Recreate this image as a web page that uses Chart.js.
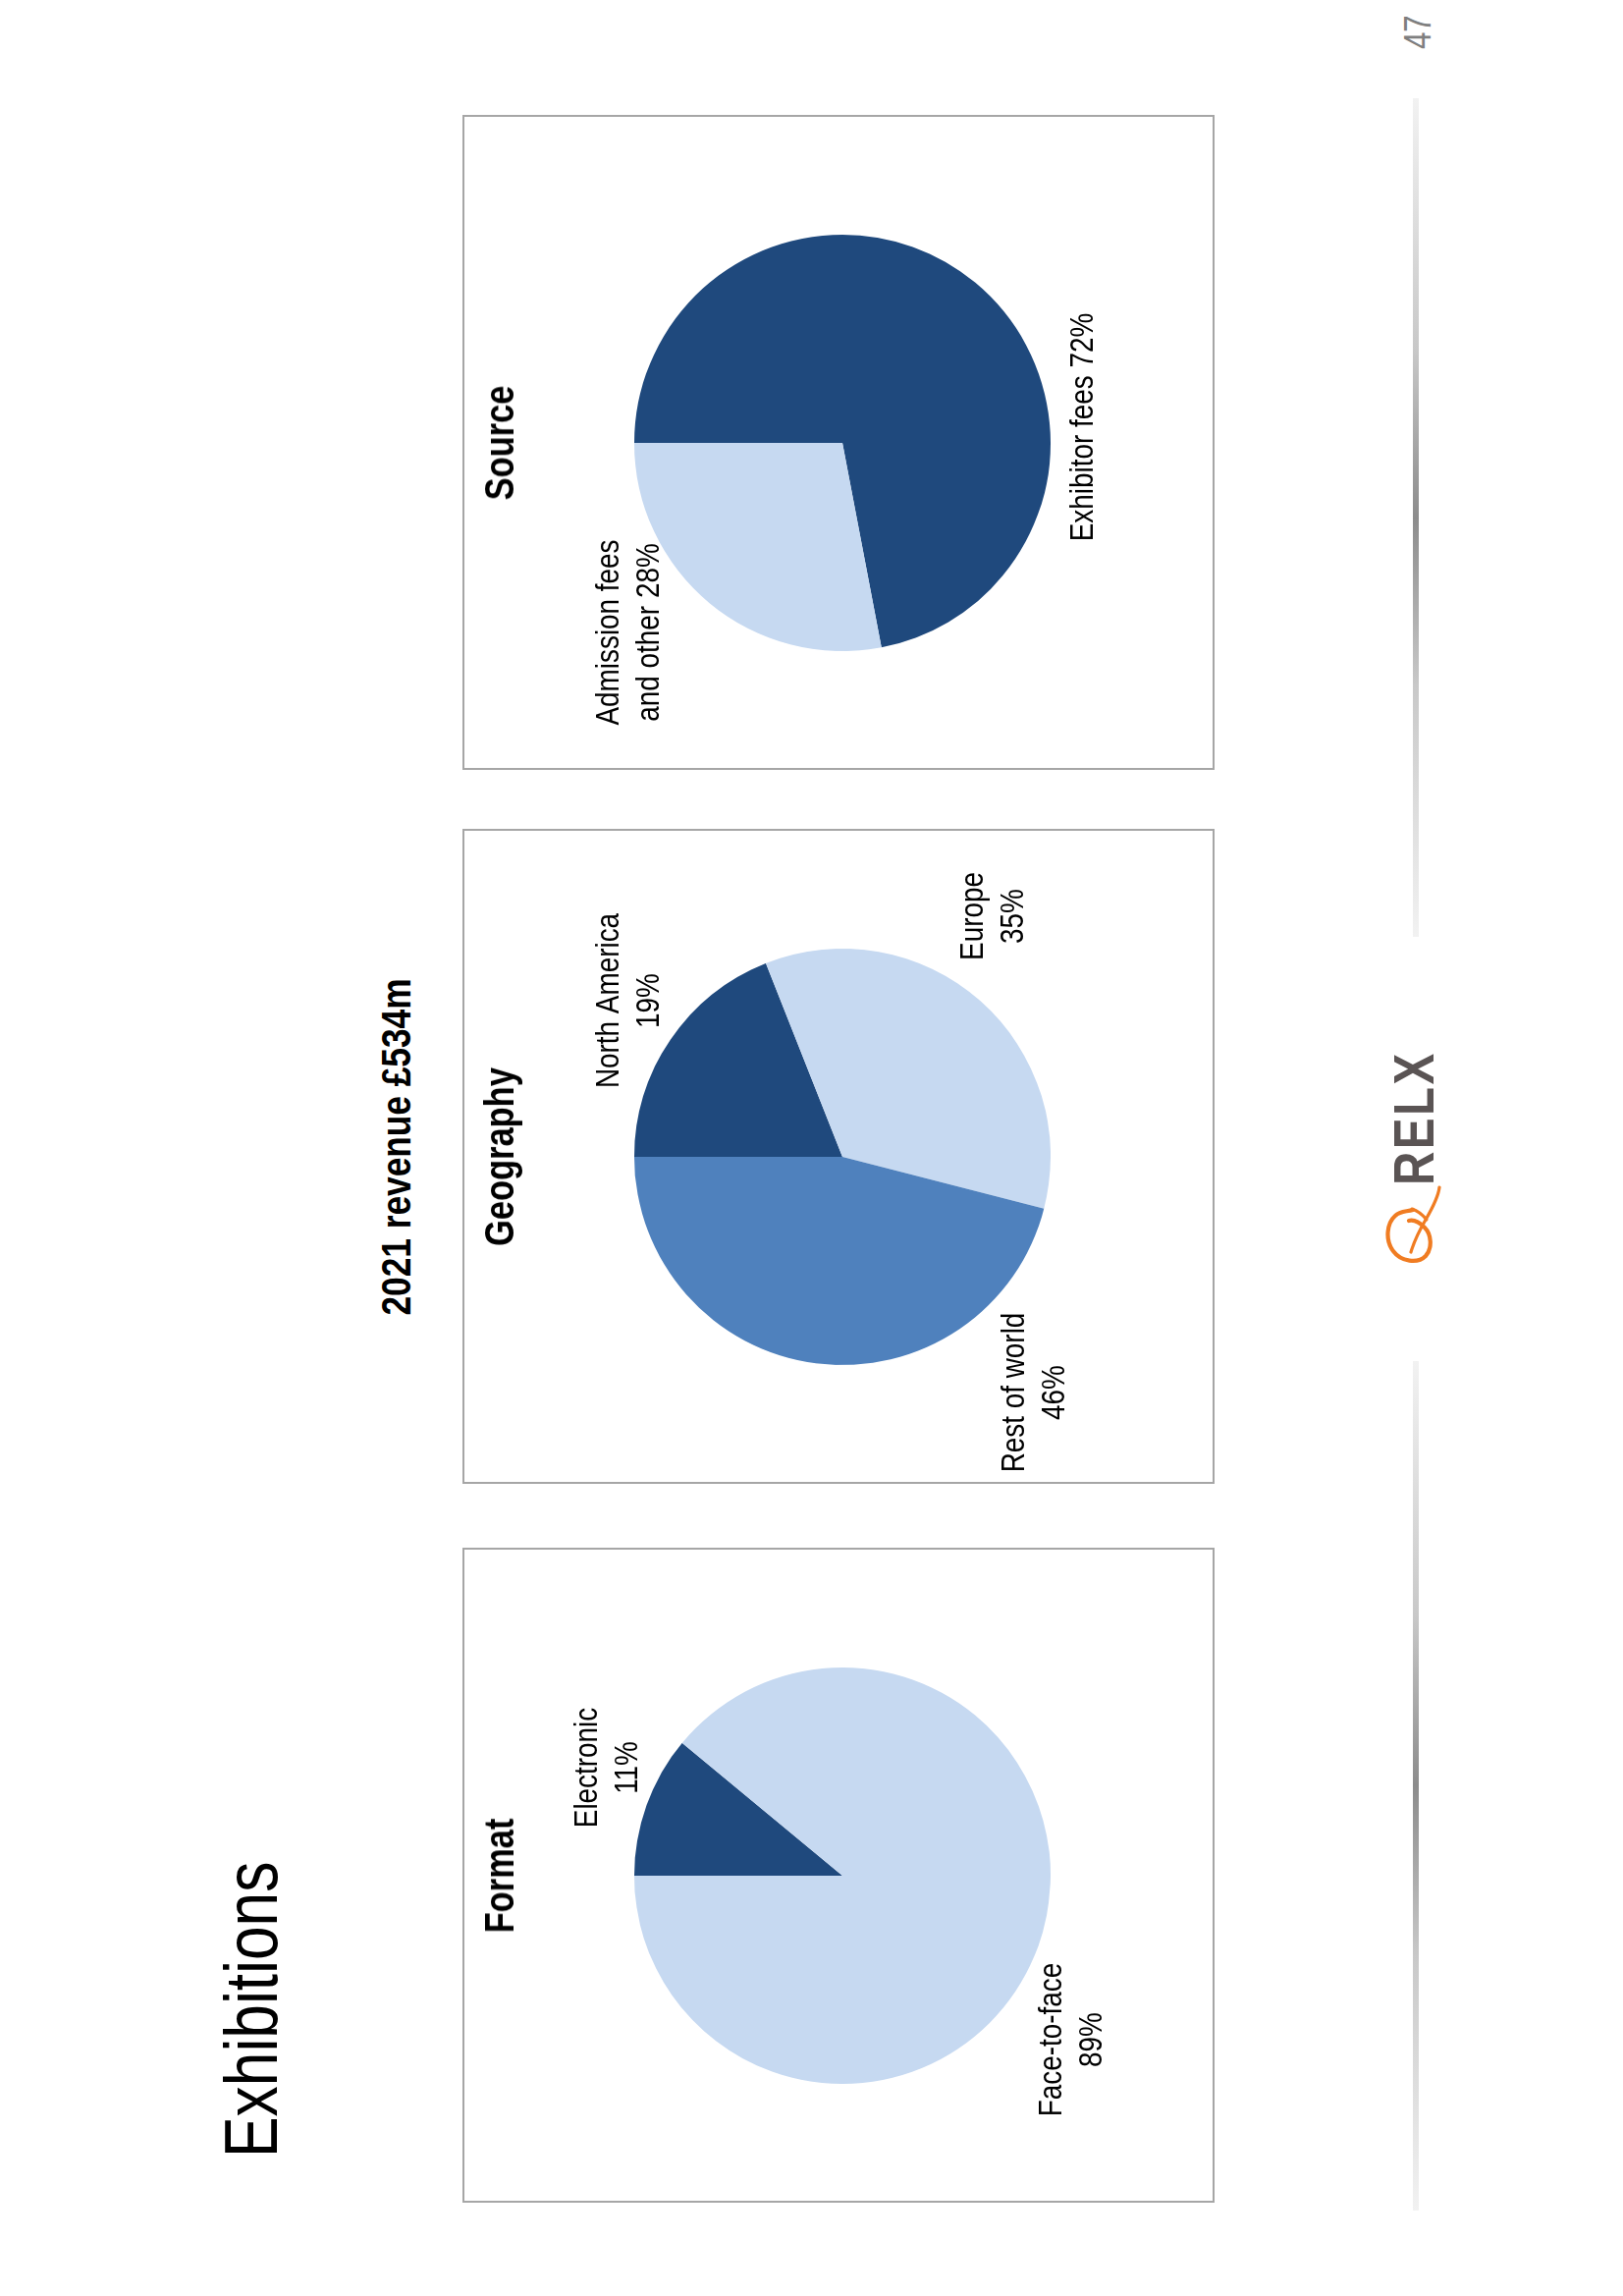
<!DOCTYPE html>
<html><head><meta charset="utf-8">
<script src="https://cdn.jsdelivr.net/npm/chart.js@4/dist/chart.umd.min.js"></script>
<style>
html,body{margin:0;padding:0;background:#fff;}
body{width:1653px;height:2338px;overflow:hidden;position:relative;}
#slide{position:absolute;left:0;top:2338px;width:2338px;height:1653px;transform-origin:0 0;transform:rotate(-90deg);background:#fff;}
.box{position:absolute;top:471px;width:667px;height:766px;border:2px solid #a6a6a6;box-sizing:border-box;}
.box canvas{position:absolute;left:0;top:0;}
.t{position:absolute;white-space:nowrap;line-height:1;}
.rule{position:absolute;height:6px;top:1439px;background:linear-gradient(to right,#f2f2f2 0%,#c8c8c8 30%,#8c8c8c 50%,#c8c8c8 70%,#f2f2f2 100%);}
</style></head>
<body>
<div id="slide">
  <div class="box" id="b0" style="left:95px"><canvas id="c0" width="663" height="762"></canvas></div>
  <div class="box" id="b1" style="left:827px"><canvas id="c1" width="663" height="762"></canvas></div>
  <div class="box" id="b2" style="left:1554px"><canvas id="c2" width="663" height="762"></canvas></div>
  <div class="rule" style="left:87px;width:865px"></div>
  <div class="rule" style="left:1384px;width:854px"></div>
  <svg id="swirl" style="position:absolute;left:1045px;top:1408px" width="90" height="62" viewBox="0 0 90 62">
    <path d="M84 58 C75 57 63 51 51 44 C39 37 28 32 18 29" fill="none" stroke="#f07c22" stroke-width="3.2" stroke-linecap="round"/>
    <path d="M61 31 C59 24 60 18 55 13 C48 5 31 2 19 11 C8 19 6 36 14 44 C22 51 36 50 43 43 C49 37 51 31 50 27" fill="none" stroke="#f07c22" stroke-width="4.2" stroke-linecap="round"/>
    <path d="M62 30 C60 36 56 41 51 45" fill="none" stroke="#f07c22" stroke-width="3" stroke-linecap="round"/>
  </svg>
</div>
<script>
// ---------- data ----------
const formatLabels = ['Electronic', 'Face-to-face'];
const formatValues = [11, 89];
const geoLabels = ['North America', 'Europe', 'Rest of world'];
const geoValues = [19, 35, 46];
const sourceLabels = ['Exhibitor fees', 'Admission fees\nand other'];
const sourceValues = [72, 28];
const chartTitles = ['Format', 'Geography', 'Source'];
const pageTitle = 'Exhibitions';
const subTitle = '2021 revenue £534m';
const pageNumber = '47';

// ---------- styles ----------
const DARK = '#1F497D', MID = '#4F81BD', LIGHT = '#C6D9F1';

function hasFont(f){
  const c = document.createElement('canvas').getContext('2d');
  c.font = '100px monospace'; const a = c.measureText('Electronic Wmm 72%').width;
  c.font = '100px "' + f + '", monospace'; const b = c.measureText('Electronic Wmm 72%').width;
  return Math.abs(a - b) > 0.5;
}
const NARROW = hasFont('Liberation Sans Narrow');
const FAM = NARROW ? '"Liberation Sans Narrow", "Liberation Sans", Arial, sans-serif' : '"Liberation Sans", Arial, sans-serif';
const SX = NARROW ? 1 : 0.82;

const slide = document.getElementById('slide');
function place(text, x, baseline, size, weight, color, align, extra){
  const d = document.createElement('div');
  d.className = 't';
  d.textContent = text;
  d.style.fontFamily = FAM;
  d.style.fontSize = size + 'px';
  d.style.fontWeight = weight;
  d.style.color = color;
  d.style.top = (baseline - 0.8465 * size) + 'px';
  d.style.left = x + 'px';
  if (extra) Object.assign(d.style, extra);
  const tx = align === 'center' ? 'translateX(-50%) ' : '';
  d.style.transformOrigin = align === 'center' ? '50% 0' : '0 0';
  d.style.transform = tx + 'scaleX(' + SX + ')';
  slide.appendChild(d);
}

place(pageTitle, 141, 282, 76, 400, '#000', 'left');
place(subTitle, 1170, 418, 43, 700, '#000', 'center');
place(pageNumber, 2288, 1457, 38, 400, '#7f7f7f', 'left');
place('RELX', 1131, 1460, 58, 700, '#5a5454', 'left', {letterSpacing: '3px'});

const boxCenters = [428, 1160, 1887];
chartTitles.forEach((t, i) => place(t, boxCenters[i], 524, 42, 700, '#000', 'center'));

// label plugin: draws "label value%" next to slices, offsets relative to pie centre
const pieLabelPlugin = {
  id: 'pieLabels',
  afterDraw(chart, args, opts) {
    const ctx = chart.ctx;
    const meta = chart.getDatasetMeta(0);
    const cx = meta.data[0].x, cy = meta.data[0].y;
    const labels = chart.data.labels, vals = chart.data.datasets[0].data;
    ctx.save();
    ctx.fillStyle = '#000';
    ctx.font = '34px ' + FAM;
    ctx.textAlign = 'center';
    ctx.textBaseline = 'alphabetic';
    labels.forEach((lab, i) => {
      const txt = lab + opts.sep + vals[i] + '%';
      const lines = txt.split('\n');
      const o = opts.offsets[i];
      lines.forEach((ln, k) => {
        ctx.save();
        ctx.translate(cx + o[0], cy + o[1] + k * 41);
        ctx.scale(SX, 1);
        ctx.fillText(ln, 0, 0);
        ctx.restore();
      });
    });
    ctx.restore();
  }
};

function makePie(id, labels, values, colors, sep, offsets){
  new Chart(document.getElementById(id), {
    type: 'pie',
    data: { labels: labels, datasets: [{ data: values, backgroundColor: colors, borderWidth: 0 }] },
    options: {
      responsive: false, animation: false, devicePixelRatio: 1,
      layout: { padding: { left: 119, right: 120, top: 173, bottom: 165 } },
      plugins: { legend: { display: false }, tooltip: { enabled: false }, pieLabels: { sep: sep, offsets: offsets } }
    },
    plugins: [pieLabelPlugin]
  });
}

makePie('c0', formatLabels, formatValues, [DARK, LIGHT], '\n', [[110, -250], [-167, 223]]);
makePie('c1', geoLabels, geoValues, [DARK, LIGHT, MID], '\n', [[159, -228], [245, 143], [-240, 185]]);
makePie('c2', sourceLabels, sourceValues, [DARK, LIGHT], ' ', [[16, 255], [-193, -228]]);
</script>
</body></html>
